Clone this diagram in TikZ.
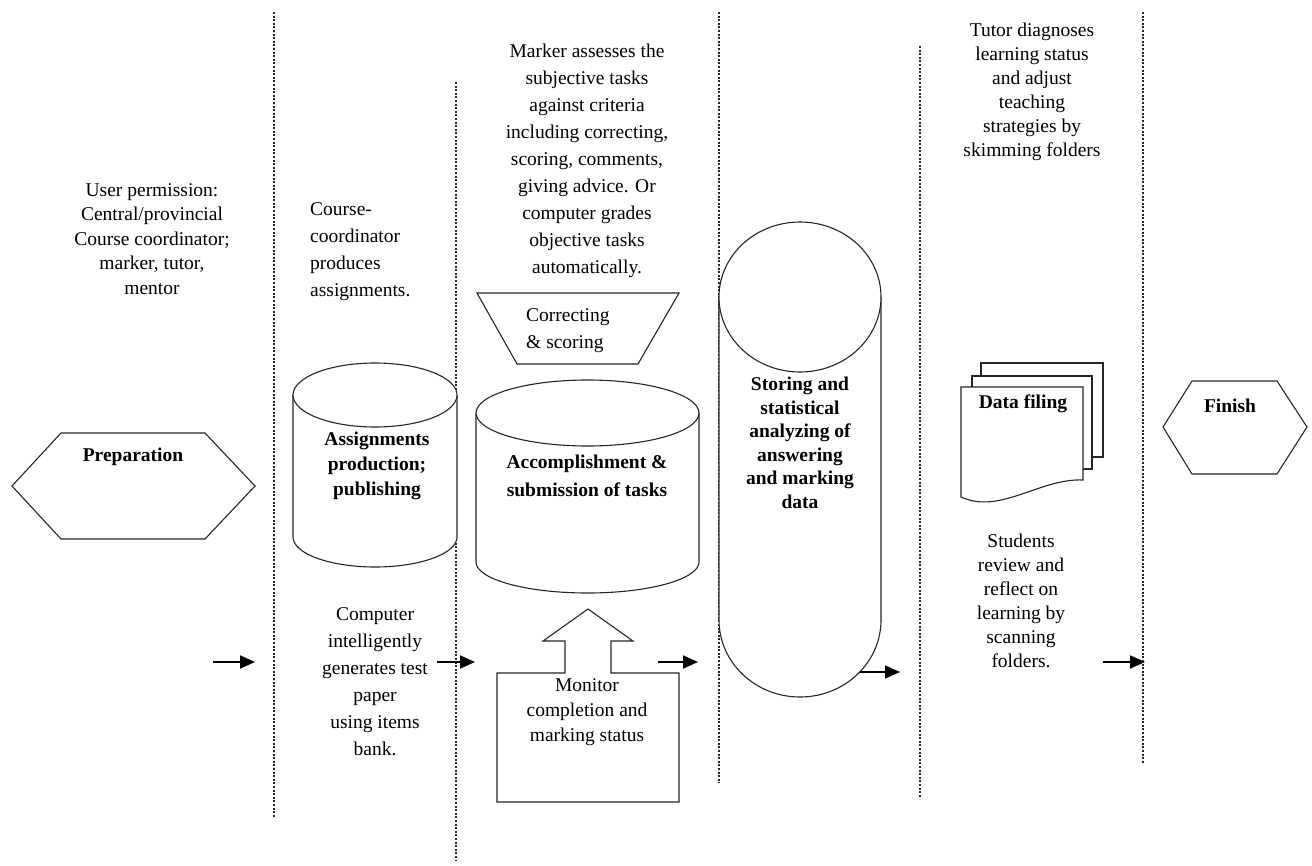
\documentclass[tikz,border=0pt]{standalone}
\usepackage{fontspec}
\setmainfont{Liberation Serif}
\usetikzlibrary{arrows.meta}
\begin{document}
\begin{tikzpicture}[x=1pt,y=-1pt,
  shp/.style={draw=black!85,line width=1.1pt,fill=white},
  sep/.style={draw=black!85,line width=2pt,dash pattern=on 2pt off 1.6pt},
  flow/.style={draw=black,line width=1.8pt,-{Triangle[length=15pt,width=13pt]}},
  txt/.style={inner sep=0pt,align=center,font=\fontsize{19.5}{26}\selectfont},
  btxt/.style={inner sep=0pt,align=center,font=\fontsize{19.5}{25}\selectfont\bfseries}]
\useasboundingbox (0,0) rectangle (1312,865);
\fill[white] (0,0) rectangle (1312,865);

% dotted separators
\draw[sep] (274,12) -- (274,817);
\draw[sep] (456,82) -- (456,860);
\draw[sep] (719,12) -- (719,783);
\draw[sep] (920,46) -- (920,797);
\draw[sep] (1143,12) -- (1143,763);

% Preparation hexagon
\draw[shp] (12,486) -- (61,433) -- (205,433) -- (255,486) -- (205,539) -- (61,539) -- cycle;
\node[btxt] (prep) at (133,457) {Preparation};
\node[txt,font=\fontsize{19.5}{24.5}\selectfont] (perm) at (152,239)
  {User permission:\\Central/provincial\\Course coordinator;\\marker, tutor,\\mentor};

% Assignments cylinder
\draw[shp] (293,395) -- (293,537) arc[start angle=180,end angle=0,x radius=82,y radius=30] -- (457,395);
\draw[shp] (375,395) ellipse[x radius=82,y radius=32];
\node[btxt] (assign) at (377,466) {Assignments\\production;\\publishing};
\node[txt,align=left,anchor=west,font=\fontsize{19.5}{27}\selectfont] (ccprod) at (310,252)
  {Course-\\coordinator\\produces\\assignments.};
\node[txt,font=\fontsize{19.5}{27}\selectfont] (compgen) at (375,682)
  {Computer\\intelligently\\generates test\\paper\\using items\\bank.};

% Marker text and trapezoid
\node[txt,font=\fontsize{19.5}{27}\selectfont] (marker) at (587,161)
  {Marker assesses the\\subjective tasks\\against criteria\\including correcting,\\scoring, comments,\\giving advice. Or\\computer grades\\objective tasks\\automatically.};
\draw[shp] (477,293) -- (679,293) -- (638,364) -- (517,364) -- cycle;
\node[txt,align=left,anchor=west,font=\fontsize{19.5}{27}\selectfont] (corr) at (526,331)
  {Correcting\\\&~scoring};

% Accomplishment cylinder
\draw[shp] (476,413) -- (476,562) arc[start angle=180,end angle=0,x radius=111.5,y radius=31] -- (699,413);
\draw[shp] (587.5,413) ellipse[x radius=111.5,y radius=33];
\node[btxt,font=\fontsize{19.5}{28}\selectfont\bfseries] (accom) at (587,476)
  {Accomplishment \&\\submission of tasks};

% Monitor box with up arrow
\draw[shp] (497,673) -- (565,673) -- (565,641) -- (543,641) -- (588,609) -- (633,641)
  -- (611,641) -- (611,673) -- (679,673) -- (679,802) -- (497,802) -- cycle;
\node[txt,font=\fontsize{19.5}{25}\selectfont] (monitor) at (587,712)
  {Monitor\\completion and\\marking status};

% Storing capsule
\draw[shp] (719,297) -- (719,620) arc[start angle=180,end angle=0,x radius=81,y radius=77] -- (881,297);
\draw[shp] (800,297) ellipse[x radius=81,y radius=75];
\node[btxt,font=\fontsize{19.5}{23.5}\selectfont\bfseries] (storing) at (800,443)
  {Storing and\\statistical\\analyzing of\\answering\\and marking\\data};

% Data filing multi-document
\draw[shp] (981,363) rectangle (1103,457);
\draw[shp] (972,376) rectangle (1092,469);
\draw[shp] (961,387) -- (1083,387) -- (1083,480) .. controls (1040,478) and (1000,515) .. (961,497) -- cycle;
\node[btxt] (datafiling) at (1023,404) {Data filing};
\node[txt,font=\fontsize{19.5}{24}\selectfont] (tutor) at (1032,92)
  {Tutor diagnoses\\learning status\\and adjust\\teaching\\strategies by\\skimming folders};
\node[txt,font=\fontsize{19.5}{24}\selectfont] (students) at (1021,601)
  {Students\\review and\\reflect on\\learning by\\scanning\\folders.};

% Finish hexagon
\draw[shp] (1163,427) -- (1192,381) -- (1277,381) -- (1307,427) -- (1277,474) -- (1192,474) -- cycle;
\node[btxt] (finish) at (1230,406) {Finish};

% flow arrows
\coordinate (a1s) at (213,662); \coordinate (a1e) at (255,662);
\coordinate (a2s) at (437,662); \coordinate (a2e) at (475,662);
\coordinate (a3s) at (658,662); \coordinate (a3e) at (698,662);
\coordinate (a4s) at (860,672); \coordinate (a4e) at (900,672);
\coordinate (a5s) at (1103,662); \coordinate (a5e) at (1145,662);
\draw[flow] (a1s) -- (a1e);
\draw[flow] (a2s) -- (a2e);
\draw[flow] (a3s) -- (a3e);
\draw[flow] (a4s) -- (a4e);
\draw[flow] (a5s) -- (a5e);
\end{tikzpicture}
\end{document}
